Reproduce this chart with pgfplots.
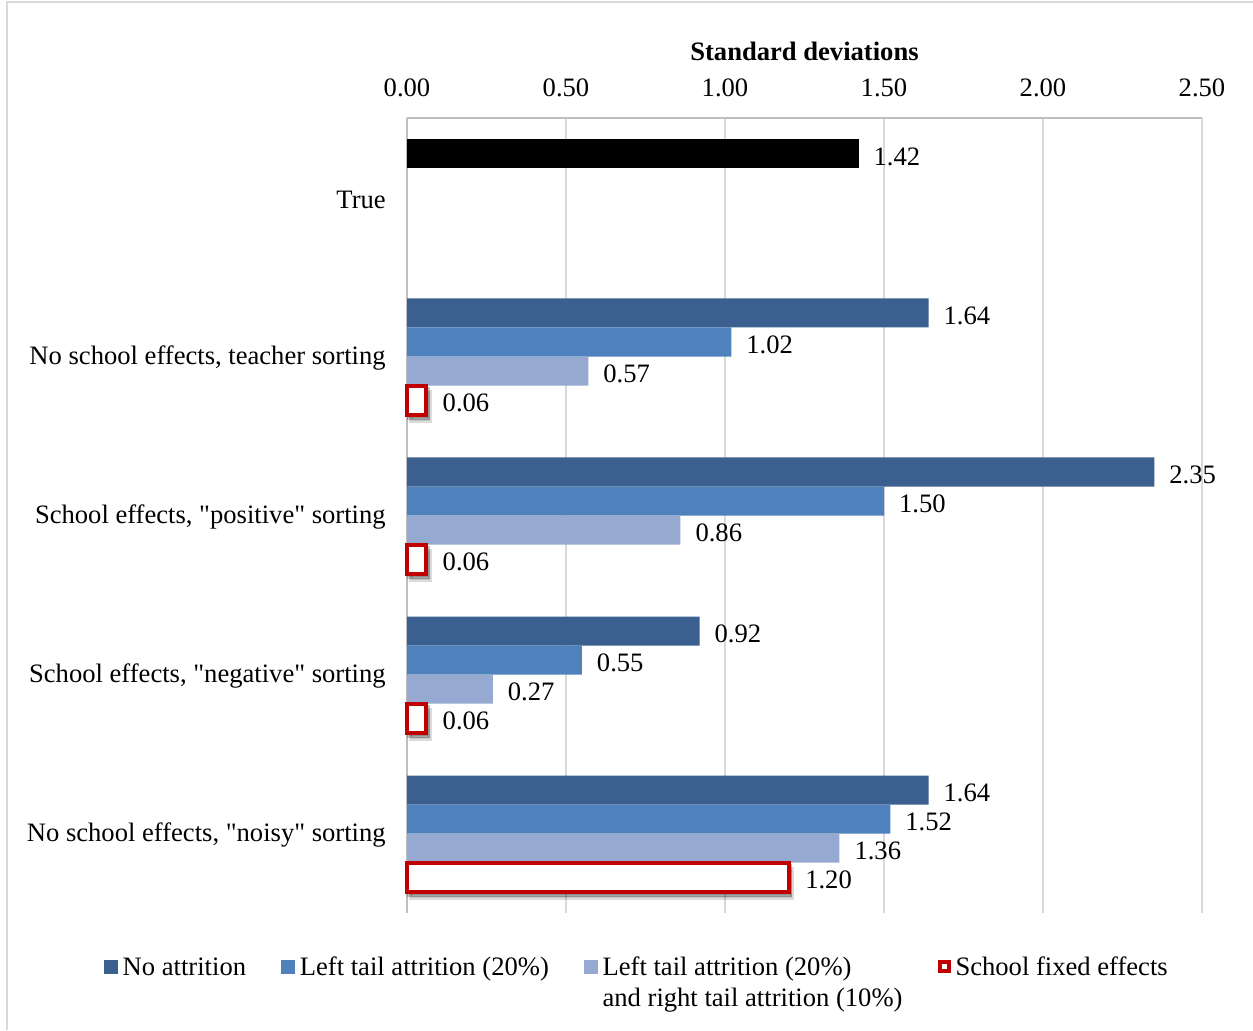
\documentclass[border=0pt]{standalone}
\usepackage{fontspec}
\setmainfont{Liberation Serif}
\usepackage{pgfplots}
\pgfplotsset{compat=1.18}

\definecolor{noattr}{HTML}{3B5F8E}
\definecolor{lefttail}{HTML}{4F81BD}
\definecolor{bothtail}{HTML}{95A9D1}
\definecolor{fered}{HTML}{C00000}
\definecolor{gridgray}{HTML}{D9D9D9}
\definecolor{axisgray}{HTML}{BFBFBF}

\newcommand{\chartfont}{\fontsize{13.3}{15.5}\selectfont}
\newcommand{\q}[1]{\textquotedbl#1\textquotedbl}

% soft shadow under the school fixed effects bars
\tikzset{barshadow/.style={
  preaction={draw=black, fill=black, line width=2pt, opacity=0.14,
             transform canvas={shift={(1.8pt,-3pt)}}},
  preaction={draw=black, fill=black, line width=2pt, opacity=0.24,
             transform canvas={shift={(0.9pt,-1.6pt)}}}
}}

\begin{document}
\begin{tikzpicture}
\useasboundingbox (0,0) rectangle (626.5pt,515pt);
\draw[gridgray, line width=1pt] (3.5pt,0) -- (3.5pt,514pt) -- (626.5pt,514pt);
\begin{axis}[
  at={(203.5pt,58.5pt)}, anchor=south west,
  scale only axis, width=397.5pt, height=397.5pt,
  xbar, bar width=0.1824,
  xmin=0, xmax=2.5, ymin=-0.5, ymax=4.5,
  axis x line*=top, axis y line*=left,
  axis line style={draw=axisgray, line width=1pt, -},
  xmajorgrids, major grid style={draw=gridgray, line width=1pt},
  major tick length=0pt, tick style={draw=none},
  xtick={0,0.5,1,1.5,2,2.5},
  ytick={0,1,2,3,4},
  yticklabels={{No school effects, \q{noisy} sorting},
               {School effects, \q{negative} sorting},
               {School effects, \q{positive} sorting},
               {No school effects, teacher sorting},
               {True}},
  /pgf/number format/assume math mode=true,
  x tick label style={/pgf/number format/fixed,
                      /pgf/number format/zerofill,
                      /pgf/number format/precision=2},
  tick label style={font=\chartfont},
  xticklabel style={anchor=base, yshift=10.5pt},
  yticklabel style={anchor=east, xshift=-7.1pt, yshift=-1pt},
  title={Standard deviations},
  every axis title/.style={at={(0.5,1)}, anchor=base, yshift=28.5pt,
                           font=\chartfont\bfseries},
  point meta=x,
  nodes near coords={\pgfmathprintnumber[fixed,zerofill,precision=2,assume math mode=true]{\pgfplotspointmeta}},
  nodes near coords align={horizontal},
  every node near coord/.append style={font=\chartfont, black, xshift=4pt, yshift=-1.2pt},
  legend columns=4,
  legend style={at={(0.291,-0.048)}, anchor=north, draw=none, fill=none,
                font=\chartfont, inner sep=0pt,
                cells={anchor=base west},
                nodes={inner sep=2.5pt},
                /tikz/every even column/.append style={column sep=15pt}},
  clip=false,
]
% true value
\addplot[fill=black, draw=none, bar shift=0.2736, forget plot]
  coordinates {(1.42,4)};
% no attrition
\addplot[fill=noattr, draw=none, bar shift=0.2736, forget plot]
  coordinates {(1.64,3) (2.35,2) (0.92,1) (1.64,0)};
% left tail attrition (20%)
\addplot[fill=lefttail, draw=none, bar shift=0.0912, forget plot]
  coordinates {(1.02,3) (1.50,2) (0.55,1) (1.52,0)};
% left tail (20%) and right tail (10%) attrition
\addplot[fill=bothtail, draw=none, bar shift=-0.0912, forget plot]
  coordinates {(0.57,3) (0.86,2) (0.27,1) (1.36,0)};
% school fixed effects
\addplot[draw=fered, fill=white, line width=2pt, bar shift=-0.2736, barshadow, forget plot]
  coordinates {(0.06,3) (0.06,2) (0.06,1) (1.20,0)};

% legend keys
\addlegendimage{legend image code/.code={\fill[noattr] (0pt,1.1pt) rectangle (6.5pt,7.6pt);}}
\addlegendimage{legend image code/.code={\fill[lefttail] (0pt,1.1pt) rectangle (6.5pt,7.6pt);}}
\addlegendimage{legend image code/.code={\fill[bothtail] (0pt,1.1pt) rectangle (6.5pt,7.6pt);}}
\addlegendimage{legend image code/.code={\draw[fered, line width=2pt, fill=white] (1pt,2.1pt) rectangle (5.5pt,6.6pt);}}
\legend{No attrition, Left tail attrition (20\%),
        {\vtop{\hbox{Left tail attrition (20\%)}\hbox{and right tail attrition (10\%)}}},
        School fixed effects}
\end{axis}
\end{tikzpicture}
\end{document}
